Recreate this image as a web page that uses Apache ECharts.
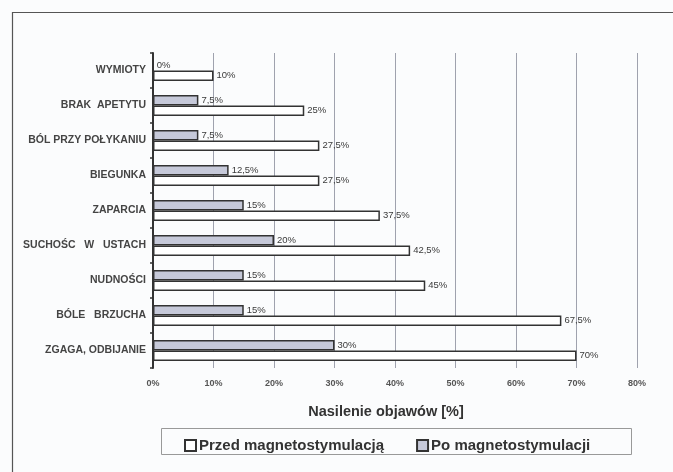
<!DOCTYPE html>
<html>
<head>
<meta charset="utf-8">
<script src="https://cdn.jsdelivr.net/npm/echarts@6/dist/echarts.min.js"></script>
<style>
  html, body { margin: 0; padding: 0; background: #fbfcfd; }
  #chart { width: 673px; height: 472px; }
</style>
</head>
<body>
<div id="chart"></div>
<script>
// Symptoms, listed top to bottom
const categories = [
  'WYMIOTY', 'BRAK  APETYTU', 'BÓL PRZY POŁYKANIU', 'BIEGUNKA', 'ZAPARCIA',
  'SUCHOŚC   W   USTACH', 'NUDNOŚCI', 'BÓLE   BRZUCHA', 'ZGAGA, ODBIJANIE'
];
// Symptom intensity [%] before and after magnetostimulation
const before = [10, 25, 27.5, 27.5, 37.5, 42.5, 45, 67.5, 70];
const after = [0, 7.5, 7.5, 12.5, 15, 20, 15, 15, 30];
const seriesNames = ['Przed magnetostymulacją', 'Po magnetostymulacji'];
const axisTitle = 'Nasilenie objawów [%]';

const fmt = v => String(v).replace('.', ',') + '%';
const font = '"Liberation Sans", Arial, sans-serif';

const labelStyle = {
  show: true,
  position: 'right',
  distance: 3,
  fontFamily: font,
  fontSize: 9.5,
  color: '#3a3a3a',
  formatter: p => fmt(p.value)
};

const chart = echarts.init(document.getElementById('chart'), null, { renderer: 'canvas' });
chart.setOption({
  backgroundColor: '#fbfcfd',
  animation: false,
  graphic: [
    {
      type: 'rect',
      shape: { x: 12.5, y: 12.5, width: 700, height: 500 },
      style: { fill: 'none', stroke: '#555', lineWidth: 1.2 },
      silent: true
    },
    {
      type: 'rect',
      shape: { x: 161.5, y: 428.5, width: 470, height: 26 },
      style: { fill: 'none', stroke: '#999', lineWidth: 1 },
      silent: true
    }
  ],
  grid: { left: 153, right: 36, top: 53, bottom: 104, containLabel: false },
  legend: {
    data: seriesNames,
    left: 179,
    top: 433,
    itemGap: 32,
    itemWidth: 11,
    itemHeight: 11,
    icon: 'rect',
    textStyle: { fontFamily: font, fontSize: 15, fontWeight: 'bold', color: '#333', padding: [0, 0, 0, -2] }
  },
  xAxis: {
    type: 'value',
    min: 0,
    max: 80,
    interval: 10,
    name: axisTitle,
    nameLocation: 'middle',
    nameGap: 36,
    nameTextStyle: { fontFamily: font, fontSize: 14.5, fontWeight: 'bold', color: '#333', padding: [0, 18, 0, 0] },
    axisLabel: { formatter: v => v + '%', fontFamily: font, fontSize: 9, fontWeight: 'bold', color: '#555', margin: 11 },
    axisLine: { show: false },
    axisTick: { show: false },
    splitLine: { show: true, lineStyle: { color: '#9fa2ae', width: 1 } }
  },
  yAxis: {
    type: 'category',
    data: categories,
    inverse: true,
    axisLine: { show: true, lineStyle: { color: '#333', width: 2 } },
    axisTick: { show: true, length: 3, lineStyle: { color: '#333', width: 1.5 } },
    axisLabel: { fontFamily: font, fontSize: 10.5, fontWeight: 'bold', color: '#444', margin: 7 }
  },
  series: [
    {
      name: seriesNames[1],
      type: 'bar',
      data: after,
      barCategoryGap: '40%',
      barGap: '0%',
      itemStyle: { color: '#c6c9d9', borderColor: '#333', borderWidth: 1.5 },
      label: labelStyle,
      z: 3
    },
    {
      name: seriesNames[0],
      type: 'bar',
      data: before,
      barCategoryGap: '40%',
      barGap: '0%',
      itemStyle: { color: '#ffffff', borderColor: '#333', borderWidth: 1.5 },
      label: labelStyle,
      z: 3
    }
  ]
});
</script>
</body>
</html>
